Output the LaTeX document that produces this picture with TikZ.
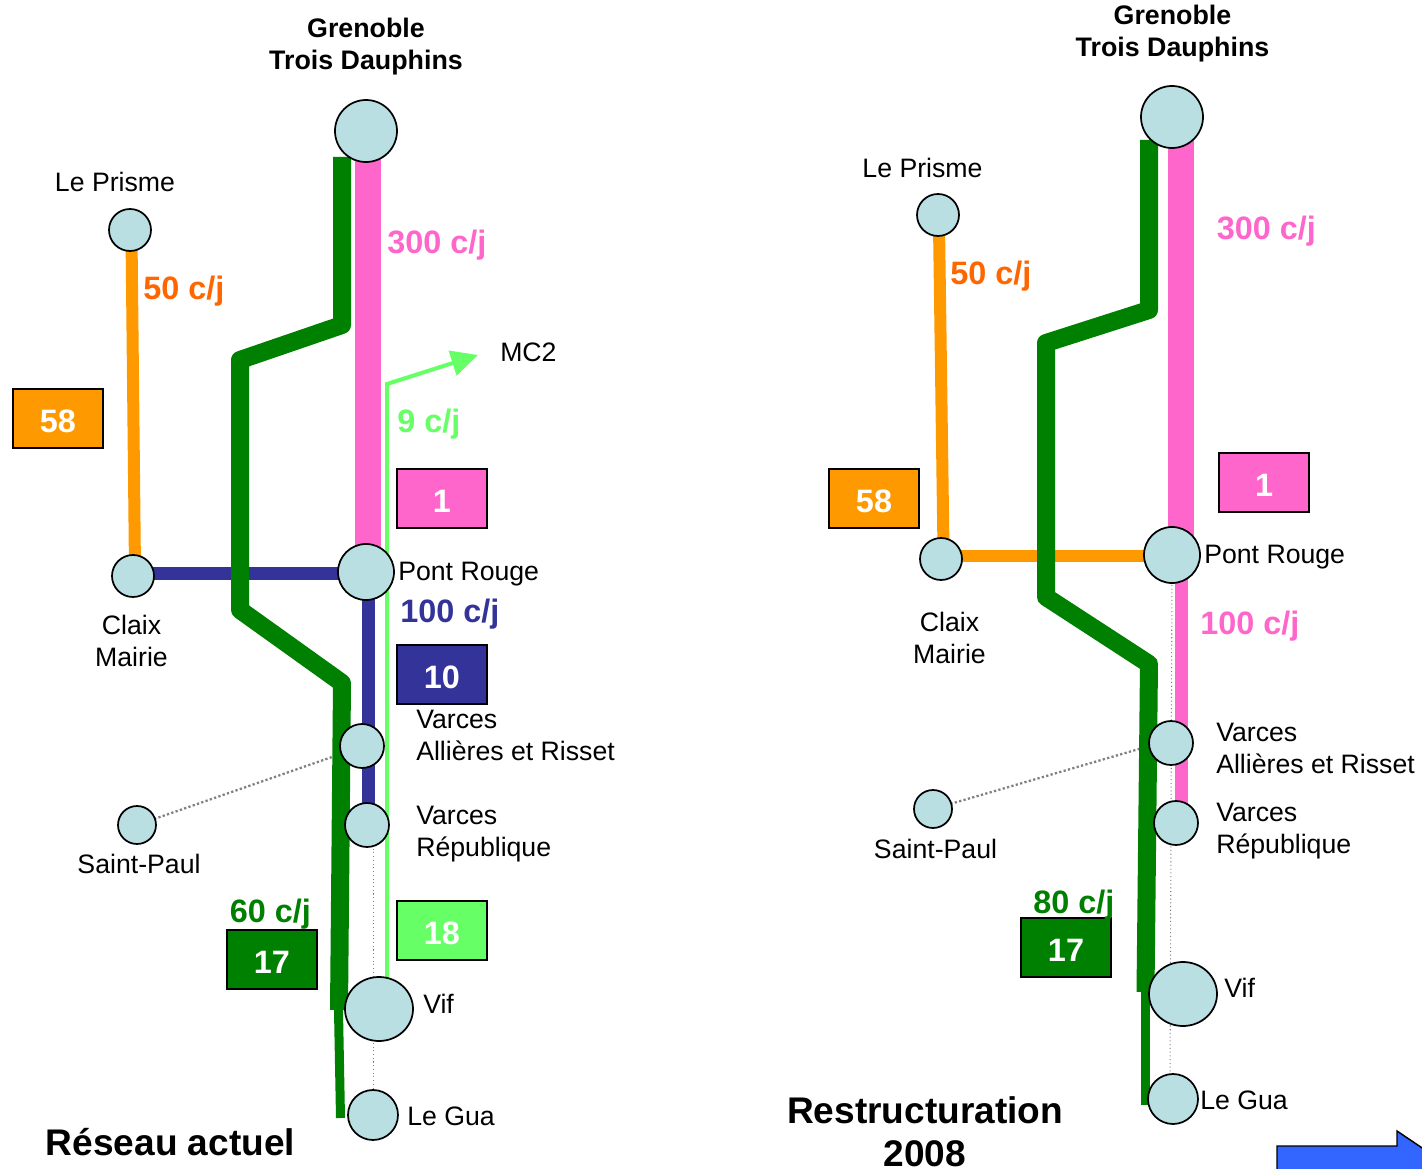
\documentclass[tikz,border=0pt]{standalone}
\usepackage{fontspec}
\setmainfont{Liberation Sans}
\usetikzlibrary{arrows.meta,shapes.geometric}
\definecolor{cgreen}{HTML}{008000}
\definecolor{cpink}{HTML}{FF66CC}
\definecolor{cblue}{HTML}{333399}
\definecolor{clime}{HTML}{66FF66}
\definecolor{corange}{HTML}{FF9900}
\definecolor{clabelor}{HTML}{FF6600}
\definecolor{cstop}{HTML}{B9DFE2}
\definecolor{carrow}{HTML}{3366FF}
\tikzset{
  x=0.75pt,y=-0.75pt,
  stop/.style={circle,draw=black,line width=1.3pt,fill=cstop,inner sep=0pt,minimum size=#1*0.75pt},
  bigstop/.style={ellipse,draw=black,line width=1.3pt,fill=cstop,inner sep=0pt,minimum width=51pt,minimum height=48pt},
  place/.style={font=\fontsize{20}{24}\selectfont,align=left,inner sep=0pt,text=black},
  bigplace/.style={font=\fontsize{20.1}{24}\selectfont\bfseries,align=center,inner sep=0pt,text=black},
  rate/.style={font=\fontsize{24.3}{28}\selectfont\bfseries,inner sep=0pt},
  linebox/.style={draw=black,line width=1.1pt,minimum width=67.5pt,minimum height=44.5pt,inner sep=0pt,
    text=white,font=\fontsize{24.3}{28}\selectfont\bfseries,text height=20.4pt,text depth=0pt},
  titletext/.style={font=\fontsize{27.8}{32.5}\selectfont\bfseries,align=center,inner sep=0pt,text=black},
  thick line/.style={line width=#1*0.75pt,line join=round},
  dotline/.style={dotted,draw=gray,line width=0.8pt},
  dotlong/.style={draw=gray,line width=1.7pt,dash pattern=on 1.7pt off 1.7pt},
}
\begin{document}
\begin{tikzpicture}
\useasboundingbox (0,0) rectangle (1422,1169);
% ---------- bottom-right arrow
\begin{scope}
\clip (0,0) rectangle (1422,1169);
\coordinate (arA) at (1277,1175);
\coordinate (arB) at (1277,1146);
\coordinate (arC) at (1397,1146);
\coordinate (arD) at (1397,1131);
\coordinate (arE) at (1440,1160);
\coordinate (arF) at (1440,1175);
\draw[black,line width=1.1pt,fill=carrow] (arA)--(arB)--(arC)--(arD)--(arE)--(arF)--cycle;
\end{scope}
% ---------- coordinates of line ends and bends (left)
\coordinate (Lp1) at (368,150);
\coordinate (Lp2) at (368,560);
\coordinate (Lg0) at (342,157);
\coordinate (Lg1) at (342,325);
\coordinate (Lg2) at (240,360);
\coordinate (Lg3) at (240,610);
\coordinate (Lg4) at (342,683);
\coordinate (Lg5) at (339,1010);
\coordinate (Lg6) at (338.5,1010);
\coordinate (Lg7) at (340.5,1118);
\coordinate (La1) at (387,982);
\coordinate (La2) at (387,384);
\coordinate (La3) at (478,355);
\coordinate (Lb1) at (368,572);
\coordinate (Lb2) at (368,825);
\coordinate (Ld1) at (373.5,830);
\coordinate (Ld2) at (373.5,1095);
\coordinate (Ls1) at (332,757);
\coordinate (Lo1) at (131.5,235);
\coordinate (Lo2) at (135,570);
% ---------- coordinates (right)
\coordinate (Rp1) at (1181,130);
\coordinate (Rp2) at (1181,545);
\coordinate (Rq1) at (1181,560);
\coordinate (Rq2) at (1181,815);
\coordinate (Rg0) at (1149,140);
\coordinate (Rg1) at (1149,310);
\coordinate (Rg2) at (1046,343);
\coordinate (Rg3) at (1046,597);
\coordinate (Rg4) at (1149,664);
\coordinate (Rg5) at (1145.5,992);
\coordinate (Rg6) at (1145.5,990);
\coordinate (Rg7) at (1145.5,1105);
\coordinate (Rd1) at (1172,570);
\coordinate (Rd2) at (1170,1085);
\coordinate (Rs1) at (1139,749);
\coordinate (Ro1) at (939,225);
\coordinate (Ro2) at (943.5,550);
\coordinate (Ro3) at (945,556);
\coordinate (Ro4) at (1160,556);
% ---------- stop centres used by connectors
\path
  (366,131) coordinate (lGTDc) (130,230) coordinate (lPrismec) (133,576) coordinate (lClaixc)
  (366,572) coordinate (lPRc) (137,825) coordinate (lSPc) (933,809) coordinate (rSPc);
% ---------- connectors left
\draw[dotline] (Ld1)--(Ld2);
\draw[dotlong] (lSPc)--(Ls1);
\draw[cpink,thick line=26] (Lp1)--(Lp2);
\draw[cblue,thick line=13] (Lb1)--(Lb2);
\draw[cblue,thick line=13] (lClaixc |- 0,573.5)--(lPRc |- 0,573.5);
\draw[corange,thick line=12] (Lo1)--(Lo2);
\draw[clime,line width=3pt,line join=miter,-{Triangle[length=20pt,width=19pt]}] (La1)--(La2)--(La3);
\draw[cgreen,thick line=18] (Lg0)--(Lg1)--(Lg2)--(Lg3)--(Lg4)--(Lg5);
\draw[cgreen,thick line=9] (Lg6)--(Lg7);
% ---------- connectors right
\draw[dotline] (Rd1)--(Rd2);
\draw[dotlong] (rSPc)--(Rs1);
\draw[cpink,thick line=26] (Rp1)--(Rp2);
\draw[cpink,thick line=13] (Rq1)--(Rq2);
\draw[corange,thick line=12] (Ro1)--(Ro2);
\draw[corange,thick line=12] (Ro3)--(Ro4);
\draw[cgreen,thick line=18] (Rg0)--(Rg1)--(Rg2)--(Rg3)--(Rg4)--(Rg5);
\draw[cgreen,thick line=9] (Rg6)--(Rg7);
% ---------- stops left
\node[stop=62] (lGTD) at (lGTDc) {};
\node[stop=42] (lPrisme) at (lPrismec) {};
\node[stop=42] (lClaix) at (lClaixc) {};
\node[stop=56] (lPR) at (lPRc) {};
\node[stop=44] (lVAR) at (362,746) {};
\node[stop=44] (lVR) at (367,825) {};
\node[stop=38] (lSP) at (lSPc) {};
\node[bigstop] (lVif) at (379,1009) {};
\node[stop=50] (lGua) at (373,1115) {};
% ---------- stops right
\node[stop=62] (rGTD) at (1172,117) {};
\node[stop=42] (rPrisme) at (938,215) {};
\node[stop=42] (rClaix) at (941,559) {};
\node[stop=56] (rPR) at (1172,555) {};
\node[stop=44] (rVAR) at (1171,743) {};
\node[stop=44] (rVR) at (1176,823) {};
\node[stop=38] (rSP) at (rSPc) {};
\node[bigstop] (rVif) at (1183,994) {};
\node[stop=50] (rGua) at (1173,1099) {};
% ---------- boxes
\node[linebox,fill=corange] (b58l) at (58,418.5) {58};
\node[linebox,fill=cpink] (b1l) at (442,498.5) {1};
\node[linebox,fill=cblue] (b10l) at (442,674.5) {10};
\node[linebox,fill=clime] (b18l) at (442,930.5) {18};
\node[linebox,fill=cgreen] (b17l) at (272,959.5) {17};
\node[linebox,fill=corange] (b58r) at (874,498.5) {58};
\node[linebox,fill=cpink] (b1r) at (1264,482.5) {1};
\node[linebox,fill=cgreen] (b17r) at (1066,947.5) {17};
% ---------- labels left
\node[bigplace] (tGTDl) at (366,47) {Grenoble\\Trois Dauphins};
\node[place,anchor=base] (tPrl) at (115,192) {Le Prisme};
\node[place,anchor=base west] (tMC) at (500,362) {MC2};
\node[place,anchor=base west] (tPRl) at (398,580.5) {Pont Rouge};
\node[place,align=center] (tClaixl) at (131.5,641) {Claix\\Mairie};
\node[place,anchor=west] (tVARl) at (416,735) {Varces\\Allières et Risset};
\node[place,anchor=west] (tVRl) at (416,834) {Varces\\République};
\node[place,anchor=base] (tSPl) at (139,873) {Saint-Paul};
\node[place,anchor=base west] (tVifl) at (423,1013) {Vif};
\node[place,anchor=base west] (tGual) at (407,1125) {Le Gua};
\node[rate,text=clabelor,anchor=base west] (r50l) at (143,300) {50 c/j};
\node[rate,text=cpink,anchor=base west] (r300l) at (387,254) {300 c/j};
\node[rate,text=clime,anchor=base west] (r9) at (397,433) {9 c/j};
\node[rate,text=cblue,anchor=base west] (r100l) at (400,623) {100 c/j};
\node[rate,text=cgreen,anchor=base west] (r60) at (229.5,922.5) {60 c/j};
\node[titletext,anchor=base] (tReseau) at (170.5,1155) {Réseau actuel};
% ---------- labels right
\node[bigplace] (tGTDr) at (1172.5,34) {Grenoble\\Trois Dauphins};
\node[place,anchor=base] (tPrr) at (922.5,178) {Le Prisme};
\node[place,anchor=base west] (tPRr) at (1204,564) {Pont Rouge};
\node[place,align=center] (tClaixr) at (949.5,638) {Claix\\Mairie};
\node[place,anchor=west] (tVARr) at (1216,748) {Varces\\Allières et Risset};
\node[place,anchor=west] (tVRr) at (1216,831) {Varces\\République};
\node[place,anchor=base] (tSPr) at (935.5,858) {Saint-Paul};
\node[place,anchor=base west] (tVifr) at (1224,997) {Vif};
\node[place,anchor=base west] (tGuar) at (1200,1109) {Le Gua};
\node[rate,text=clabelor,anchor=base west] (r50r) at (950,285) {50 c/j};
\node[rate,text=cpink,anchor=base west] (r300r) at (1216.5,240) {300 c/j};
\node[rate,text=cpink,anchor=base west] (r100r) at (1200,634) {100 c/j};
\node[rate,text=cgreen,anchor=base west] (r80) at (1033,913) {80 c/j};
\node[titletext] (tRestr) at (925,1132) {Restructuration\\2008};
\end{tikzpicture}
\end{document}
